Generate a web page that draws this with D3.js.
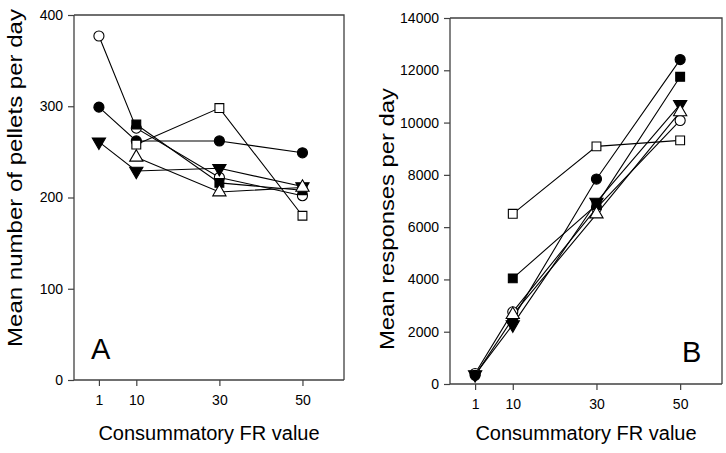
<!DOCTYPE html>
<html><head><meta charset="utf-8">
<script src="https://cdn.jsdelivr.net/npm/d3@7"></script>
<style>body{margin:0;background:#fff;}svg{display:block;font-family:"Liberation Sans",Arial,sans-serif;}</style>
</head><body>
<svg id="c" width="726" height="453"></svg>
<script>
const xTicks = [1, 10, 30, 50];
const yTicksA = [0, 100, 200, 300, 400];
const yTicksB = [0, 2000, 4000, 6000, 8000, 10000, 12000, 14000];
const seriesNames = ["openCircle", "filledCircle", "openSquare", "filledSquare", "downTriangle", "openTriangle"];
const seriesSymbols = ["circle", "circle", "square", "square", "down", "up"];
const seriesFilled = [false, true, false, true, true, false];

// Panel A: mean pellets per day  (null = no point)
const pelletsOpenCircle   = [377, 276, 222, 202];
const pelletsFilledCircle = [299, 262, 262, 249];
const pelletsOpenSquare   = [null, 258, 298, 180];
const pelletsFilledSquare = [null, 280, 216, 208];
const pelletsDownTriangle = [261, 229, 232, 212];
const pelletsOpenTriangle = [null, 244, 206, 211];

// Panel B: mean responses per day
const respOpenCircle   = [400, 2760, 6730, 10080];
const respFilledCircle = [330, 2500, 7840, 12410];
const respOpenSquare   = [null, 6510, 9090, 9320];
const respFilledSquare = [null, 4040, 6850, 11750];
const respDownTriangle = [360, 2270, 6960, 10700];
const respOpenTriangle = [null, 2650, 6500, 10410];

const pelletsSeries = [pelletsOpenCircle, pelletsFilledCircle, pelletsOpenSquare, pelletsFilledSquare, pelletsDownTriangle, pelletsOpenTriangle];
const respSeries = [respOpenCircle, respFilledCircle, respOpenSquare, respFilledSquare, respDownTriangle, respOpenTriangle];

const svg = d3.select("#c");
const frameColor = "#404040";

function panel(opt) {
  const {left, right, top, bottom, yMax, yTicks, series, yTitle, yTitleX, yTitleY, yTitleLen, letter, letterX, letterY} = opt;
  const x = d3.scaleLinear().domain([-5, 60]).range([left, right]);
  const y = d3.scaleLinear().domain([0, yMax]).range([bottom, top]);
  const g = svg.append("g");

  g.append("path").attr("d", `M${left},${top}H${right}V${bottom}`)
    .attr("fill", "none").attr("stroke", frameColor).attr("stroke-width", 1.3);

  const ax = g.append("g").attr("transform", `translate(0,${bottom})`)
    .call(d3.axisBottom(x).tickValues(xTicks).tickSize(6).tickPadding(9).tickSizeOuter(0).tickFormat(d3.format("d")));
  const ay = g.append("g").attr("transform", `translate(${left},0)`)
    .call(d3.axisLeft(y).tickValues(yTicks).tickSize(6).tickPadding(5).tickSizeOuter(0).tickFormat(d3.format("d")));
  [ax, ay].forEach(a => {
    a.select(".domain").attr("stroke", frameColor).attr("stroke-width", 1.3);
    a.selectAll(".tick line").attr("stroke", frameColor).attr("stroke-width", 1.2);
    a.selectAll("text").attr("font-size", 14).attr("fill", "#000").attr("font-family", '"Liberation Sans",Arial,sans-serif');
  });
  ax.select(".domain").attr("d", `M${left},0H${right}`);
  ay.select(".domain").attr("d", `M0,${bottom}V${top}`);

  series.forEach((vals, i) => {
    const pts = xTicks.map((xv, j) => ({x: xv, y: vals[j]})).filter(d => d.y != null);
    g.append("path").datum(pts)
      .attr("d", d3.line().x(d => x(d.x)).y(d => y(d.y)))
      .attr("fill", "none").attr("stroke", "#000").attr("stroke-width", 1.1);
  });
  series.forEach((vals, i) => {
    const pts = xTicks.map((xv, j) => ({x: xv, y: vals[j]})).filter(d => d.y != null);
    const s = seriesSymbols[i];
    const type = s === "circle" ? d3.symbolCircle : s === "square" ? d3.symbolSquare : d3.symbolTriangle;
    const size = s === "circle" ? 80 : s === "square" ? 78 : 76;
    g.selectAll(null).data(pts).enter().append("path")
      .attr("d", d3.symbol().type(type).size(size))
      .attr("transform", d => `translate(${x(d.x)},${y(d.y)})` + (s === "down" ? " rotate(180)" : ""))
      .attr("fill", seriesFilled[i] ? "#000" : "#fff")
      .attr("stroke", "#000").attr("stroke-width", 1.1);
  });

  g.append("text").attr("x", (left + right) / 2).attr("y", 440)
    .attr("text-anchor", "middle").attr("font-size", 20).text("Consummatory FR value");
  g.append("text").attr("transform", `translate(${yTitleX},${yTitleY}) rotate(-90)`)
    .attr("text-anchor", "middle").attr("font-size", 20)
    .attr("textLength", yTitleLen).attr("lengthAdjust", "spacingAndGlyphs").text(yTitle);
  g.append("text").attr("x", letterX).attr("y", letterY)
    .attr("font-size", 29).text(letter);
}

panel({left: 74, right: 344, top: 15, bottom: 380, yMax: 400, yTicks: yTicksA, series: pelletsSeries,
  yTitle: "Mean number of pellets per day", yTitleX: 22, yTitleY: 178, yTitleLen: 338, letter: "A", letterX: 91, letterY: 359});
panel({left: 450, right: 722, top: 18, bottom: 384, yMax: 14000, yTicks: yTicksB, series: respSeries,
  yTitle: "Mean responses per day", yTitleX: 394, yTitleY: 219, yTitleLen: 262, letter: "B", letterX: 682, letterY: 362});
</script>
</body></html>
